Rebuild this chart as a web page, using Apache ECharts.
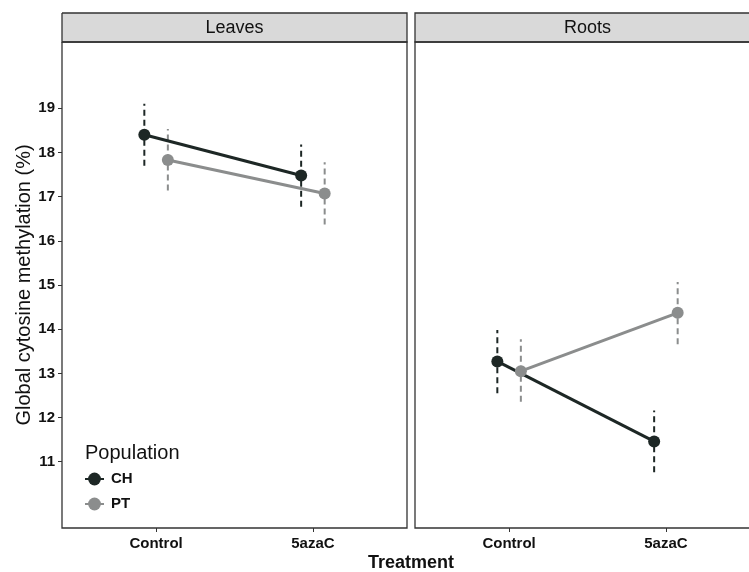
<!DOCTYPE html>
<html>
<head>
<meta charset="utf-8">
<script src="https://cdn.jsdelivr.net/npm/echarts@6/dist/echarts.min.js"></script>
<style>
  html, body { margin: 0; padding: 0; background: #fff; overflow: hidden; }
  #main { width: 749px; height: 572px; }
</style>
</head>
<body>
<div id="main"></div>
<script>
// categories
const treatments = ['Control', '5azaC'];
const tissues = ['Leaves', 'Roots'];
const populations = ['CH', 'PT'];
const yTicks = [11, 12, 13, 14, 15, 16, 17, 18, 19];

// means and error bar ends, per treatment (Control, 5azaC)
const leavesCH = [18.40, 17.48];
const leavesCHLow = [17.70, 16.77];
const leavesCHHigh = [19.10, 18.18];
const leavesPT = [17.83, 17.07];
const leavesPTLow = [17.14, 16.37];
const leavesPTHigh = [18.53, 17.78];

const rootsCH = [13.27, 11.46];
const rootsCHLow = [12.55, 10.76];
const rootsCHHigh = [13.98, 12.16];
const rootsPT = [13.05, 14.37];
const rootsPTLow = [12.36, 13.66];
const rootsPTHigh = [13.77, 15.07];

const colors = { CH: '#1d2725', PT: '#8b8d8d' };
const dodge = { CH: -0.075, PT: 0.075 };
const font = '"Liberation Sans", Arial, sans-serif';

const panelData = [
  { CH: [leavesCH, leavesCHLow, leavesCHHigh], PT: [leavesPT, leavesPTLow, leavesPTHigh] },
  { CH: [rootsCH, rootsCHLow, rootsCHHigh], PT: [rootsPT, rootsPTLow, rootsPTHigh] }
];

// the right panel runs past the picture's edge, as in the original
const panels = [
  { left: 62, top: 42, width: 345, height: 486 },
  { left: 415, top: 42, width: 345, height: 486 }
];
const stripTop = 13;

let series = [];
panelData.forEach((pd, gi) => {
  populations.forEach(pop => {
    const [mean, lo, hi] = pd[pop];
    // error bars
    series.push({
      name: pop + ' error',
      type: 'custom',
      xAxisIndex: gi,
      yAxisIndex: gi,
      z: 2,
      clip: false,
      data: treatments.map((t, i) => [i + 1 + dodge[pop], lo[i], hi[i]]),
      renderItem: (params, api) => {
        const x = api.value(0);
        const a = api.coord([x, api.value(1)]);
        const b = api.coord([x, api.value(2)]);
        return {
          type: 'line',
          shape: { x1: a[0], y1: a[1], x2: b[0], y2: b[1] },
          style: { stroke: colors[pop], lineWidth: 2, lineDash: [6, 4] }
        };
      }
    });
    // mean line + points
    series.push({
      name: pop,
      type: 'line',
      xAxisIndex: gi,
      yAxisIndex: gi,
      z: 3,
      clip: false,
      data: treatments.map((t, i) => [i + 1 + dodge[pop], mean[i]]),
      symbol: 'circle',
      symbolSize: 12,
      showSymbol: true,
      itemStyle: { color: colors[pop] },
      lineStyle: { color: colors[pop], width: 3 }
    });
  });
});

// border of a panel; the second one has no right side (cut off in the original)
function border(p, gi, y0, y1) {
  const r = p.left + p.width;
  const pts = gi === 0
    ? [[p.left, y0], [r, y0], [r, y1], [p.left, y1], [p.left, y0]]
    : [[r, y0], [p.left, y0], [p.left, y1], [r, y1]];
  return { type: 'polyline', shape: { points: pts }, style: { fill: null, stroke: '#333', lineWidth: 1.3 } };
}

const option = {
  animation: false,
  grid: panels.map(p => Object.assign({ show: false, outerBoundsMode: 'none', containLabel: false }, p)),
  xAxis: panels.map((p, gi) => ({
    type: 'value',
    gridIndex: gi,
    min: 0.4,
    max: 2.6,
    splitLine: { show: false },
    axisLine: { show: false },
    axisTick: { show: true, customValues: [1, 2], length: 4, lineStyle: { color: '#333' } },
    axisLabel: {
      customValues: [1, 2],
      formatter: v => treatments[Math.round(v) - 1],
      color: '#111', fontFamily: font, fontWeight: 'bold', fontSize: 15, margin: 8
    }
  })),
  yAxis: panels.map((p, gi) => ({
    type: 'value',
    gridIndex: gi,
    min: 9.5,
    max: 20.5,
    splitLine: { show: false },
    axisLine: { show: false },
    axisTick: { show: gi === 0, customValues: yTicks, length: 4, lineStyle: { color: '#333' } },
    axisLabel: {
      show: gi === 0,
      customValues: yTicks,
      color: '#111', fontFamily: font, fontWeight: 'bold', fontSize: 15, margin: 7
    },
    name: gi === 0 ? 'Global cytosine methylation (%)' : '',
    nameLocation: 'middle',
    nameGap: 26,
    nameTextStyle: { color: '#111', fontFamily: font, fontSize: 20 }
  })),
  legend: {
    data: populations,
    orient: 'vertical',
    left: 84,
    top: 471,
    padding: 0,
    itemWidth: 19,
    itemHeight: 16,
    itemGap: 9,
    selectedMode: false,
    textStyle: { color: '#111', fontFamily: font, fontWeight: 'bold', fontSize: 15, lineHeight: 16, padding: [0, 0, 0, 2] }
  },
  graphic: [
    // facet strips
    ...panels.map(p => ({
      type: 'rect',
      shape: { x: p.left, y: stripTop, width: p.width, height: p.top - stripTop },
      style: { fill: '#d9d9d9', stroke: null }
    })),
    ...panels.map((p, gi) => border(p, gi, stripTop, p.top)),
    ...panels.map((p, gi) => border(p, gi, p.top, p.top + p.height)),
    ...panels.map((p, gi) => ({
      type: 'text',
      x: p.left + p.width / 2,
      y: 28,
      style: { text: tissues[gi], fill: '#111', font: '18px ' + font, textAlign: 'center', textVerticalAlign: 'middle' }
    })),
    {
      type: 'text', x: 85, y: 453,
      style: { text: 'Population', fill: '#111', font: '20px ' + font, textVerticalAlign: 'middle' }
    },
    {
      type: 'text', x: 411, y: 563,
      style: { text: 'Treatment', fill: '#111', font: 'bold 18px ' + font, textAlign: 'center', textVerticalAlign: 'middle' }
    }
  ],
  series: series
};

const chart = echarts.init(document.getElementById('main'));
chart.setOption(option);
</script>
</body>
</html>
